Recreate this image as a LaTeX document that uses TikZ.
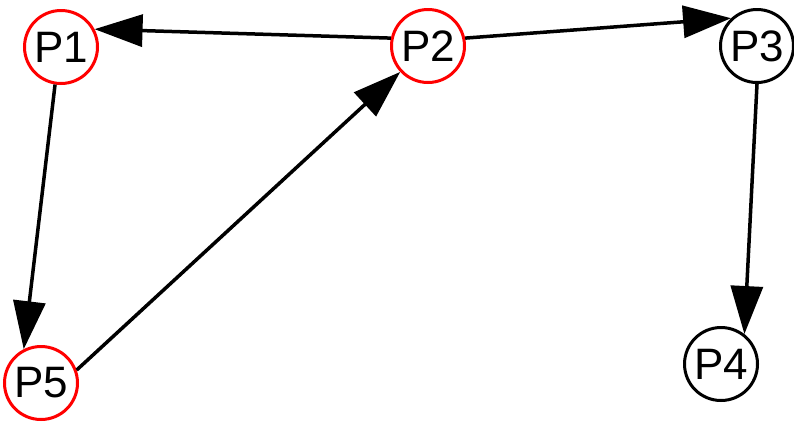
\documentclass[tikz,border=0pt]{standalone}
\usepackage{fontspec}
\setmainfont{Liberation Sans}
\usetikzlibrary{arrows.meta}
\begin{document}
\begin{tikzpicture}[x=1pt,y=-1pt,
  pnode/.style={circle,draw,line width=3pt,minimum size=73pt,inner sep=0pt,
    font=\fontsize{44}{44}\selectfont},
  rednode/.style={pnode,draw=red},
  blacknode/.style={pnode,draw=black},
  arr/.style={line width=3.5pt,-{Triangle[length=48pt,width=32pt]}}]
\useasboundingbox (0,0) rectangle (794,421);
\node[rednode] (p1) at (61,47) {P1};
\node[rednode] (p2) at (428,46) {P2};
\node[blacknode] (p3) at (757,46) {P3};
\node[blacknode] (p4) at (721,364) {P4};
\node[rednode] (p5) at (41,383) {P5};
\draw[arr] (p2.168) -- (p1.28);
\draw[arr] (p2.12) -- (p3.133);
\draw[arr] (p3.-90) -- (p4.52);
\draw[arr] (p1.-99) -- (p5.117);
\draw[arr] (p5.20) -- (p2.223);
\end{tikzpicture}
\end{document}
